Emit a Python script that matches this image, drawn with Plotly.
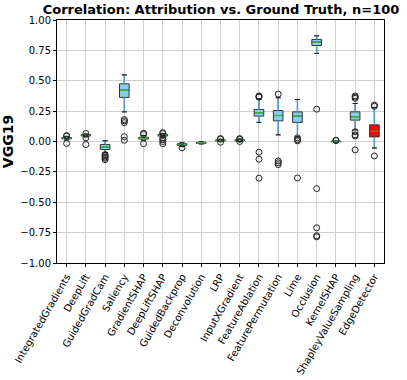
import plotly.graph_objects as go

categories = ["IntegratedGradients", "DeepLift", "GuidedGradCam", "Saliency", "GradientSHAP",
              "DeepLiftSHAP", "GuidedBackprop", "Deconvolution", "LRP", "InputXGradient",
              "FeatureAblation", "FeaturePermutation", "Lime", "Occlusion", "KernelSHAP",
              "ShapleyValueSampling", "EdgeDetector"]
q1 = [0.022, 0.046, -0.066, 0.363, 0.020, 0.045, -0.032, -0.015, 0.005, 0.005,
      0.209, 0.170, 0.157, 0.790, -0.002, 0.176, 0.038]
median = [0.027, 0.051, -0.046, 0.425, 0.027, 0.052, -0.025, -0.010, 0.009, 0.009,
          0.237, 0.214, 0.209, 0.819, 0.000, 0.203, 0.085]
q3 = [0.032, 0.056, -0.024, 0.475, 0.035, 0.058, -0.018, -0.006, 0.013, 0.013,
      0.264, 0.255, 0.244, 0.840, 0.002, 0.244, 0.137]
lower = [0.012, 0.038, -0.090, 0.244, 0.010, 0.035, -0.042, -0.020, 0.000, 0.000,
         0.157, 0.055, 0.040, 0.725, -0.004, 0.096, -0.053]
upper = [0.042, 0.062, 0.006, 0.548, 0.050, 0.066, -0.010, -0.002, 0.018, 0.018,
         0.350, 0.360, 0.346, 0.870, 0.005, 0.313, 0.280]
outliers = [
    [0.048, 0.045, -0.016],
    [0.066, 0.030, -0.025],
    [-0.108, -0.118, -0.128, -0.138, -0.150],
    [0.180, 0.170, 0.155, 0.040, 0.010],
    [0.068, 0.058, -0.018],
    [0.072, 0.066, 0.030, 0.015, 0.000, -0.018],
    [-0.052],
    [],
    [0.024, 0.020, -0.006],
    [0.024, 0.018, 0.000],
    [0.375, 0.370, 0.365, -0.088, -0.146, -0.302],
    [0.390, -0.160, -0.175, -0.190],
    [0.030, 0.015, 0.005, -0.300],
    [0.266, -0.388, -0.710, -0.775, -0.785],
    [0.010, 0.008],
    [0.375, 0.365, 0.355, 0.080, 0.055, 0.045, -0.069],
    [0.300, 0.290, -0.119],
]
y_ticks = [-1.0, -0.75, -0.5, -0.25, 0.0, 0.25, 0.5, 0.75, 1.0]

pos = list(range(1, len(categories) + 1))
n_blue = len(categories) - 1
W = 0.5

fig = go.Figure()
fig.add_trace(go.Box(x=pos[:n_blue], q1=q1[:n_blue], median=median[:n_blue], q3=q3[:n_blue],
                     lowerfence=lower[:n_blue], upperfence=upper[:n_blue],
                     width=W, whiskerwidth=0.5, boxpoints=False,
                     fillcolor="#87CEEB", line=dict(color="#333333", width=1), showlegend=False))
fig.add_trace(go.Box(x=pos[n_blue:], q1=q1[n_blue:], median=median[n_blue:], q3=q3[n_blue:],
                     lowerfence=lower[n_blue:], upperfence=upper[n_blue:],
                     width=W, whiskerwidth=0.5, boxpoints=False,
                     fillcolor="#FF0000", line=dict(color="#333333", width=1), showlegend=False))

# whiskers (blue)
wx, wy = [], []
for p, a, b, c, d in zip(pos, lower, q1, q3, upper):
    wx += [p, p, None, p, p, None]
    wy += [a, b, None, c, d, None]
fig.add_trace(go.Scatter(x=wx, y=wy, mode="lines", line=dict(color="#5b9bd5", width=1.5),
                         showlegend=False, hoverinfo="skip"))
# caps
cx, cy = [], []
for p, a, d in zip(pos, lower, upper):
    cx += [p - W / 4, p + W / 4, None, p - W / 4, p + W / 4, None]
    cy += [a, a, None, d, d, None]
fig.add_trace(go.Scatter(x=cx, y=cy, mode="lines", line=dict(color="#222222", width=1),
                         showlegend=False, hoverinfo="skip"))
# medians
mx, my, ex, ey = [], [], [], []
for i, (p, m) in enumerate(zip(pos, median)):
    if i < n_blue:
        mx += [p - W / 2 + 0.03, p + W / 2 - 0.03, None]
        my += [m, m, None]
    else:
        ex += [p - W / 2 + 0.03, p + W / 2 - 0.03, None]
        ey += [m, m, None]
fig.add_trace(go.Scatter(x=mx, y=my, mode="lines", line=dict(color="#3cb44b", width=1.5),
                         showlegend=False, hoverinfo="skip"))
fig.add_trace(go.Scatter(x=ex, y=ey, mode="lines", line=dict(color="#b5651d", width=1.5),
                         showlegend=False, hoverinfo="skip"))
# outliers
ox, oy = [], []
for p, outs in zip(pos, outliers):
    for v in outs:
        ox.append(p)
        oy.append(v)
fig.add_trace(go.Scatter(x=ox, y=oy, mode="markers",
                         marker=dict(symbol="circle-open", size=6, color="#222222", line=dict(width=1)),
                         showlegend=False, hoverinfo="skip"))

fig.update_layout(
    width=407, height=380,
    margin=dict(l=57, r=23, t=20, b=117, autoexpand=False),
    paper_bgcolor="white", plot_bgcolor="white",
    font=dict(family="DejaVu Sans", size=10, color="black"),
    title=dict(text="<b>Correlation: Attribution vs. Ground Truth, n=100</b>",
               x=0.543, xanchor="center", y=0.975, yanchor="middle",
               font=dict(size=13, family="DejaVu Sans", color="black")),
)
fig.update_xaxes(range=[0.5, len(categories) + 0.5], tickvals=pos, ticktext=categories,
                 tickangle=-60, showgrid=True, gridcolor="#d0d0d0", gridwidth=1,
                 showline=True, linecolor="black", linewidth=1, mirror=True,
                 ticks="outside", ticklen=3, tickcolor="black", zeroline=False,
                 tickfont=dict(size=10), automargin=False)
fig.update_yaxes(range=[-1.0, 1.0], tickvals=y_ticks, tickformat=".2f",
                 showgrid=True, gridcolor="#d0d0d0", gridwidth=1,
                 showline=True, linecolor="black", linewidth=1, mirror=True,
                 ticks="outside", ticklen=3, tickcolor="black", zeroline=False,
                 tickfont=dict(size=10), automargin=False,
                 title=dict(text="<b>VGG19</b>", font=dict(size=14), standoff=3))

fig.write_html("out.html", config={"displayModeBar": False},
               post_script="document.body.style.margin='0px';")
